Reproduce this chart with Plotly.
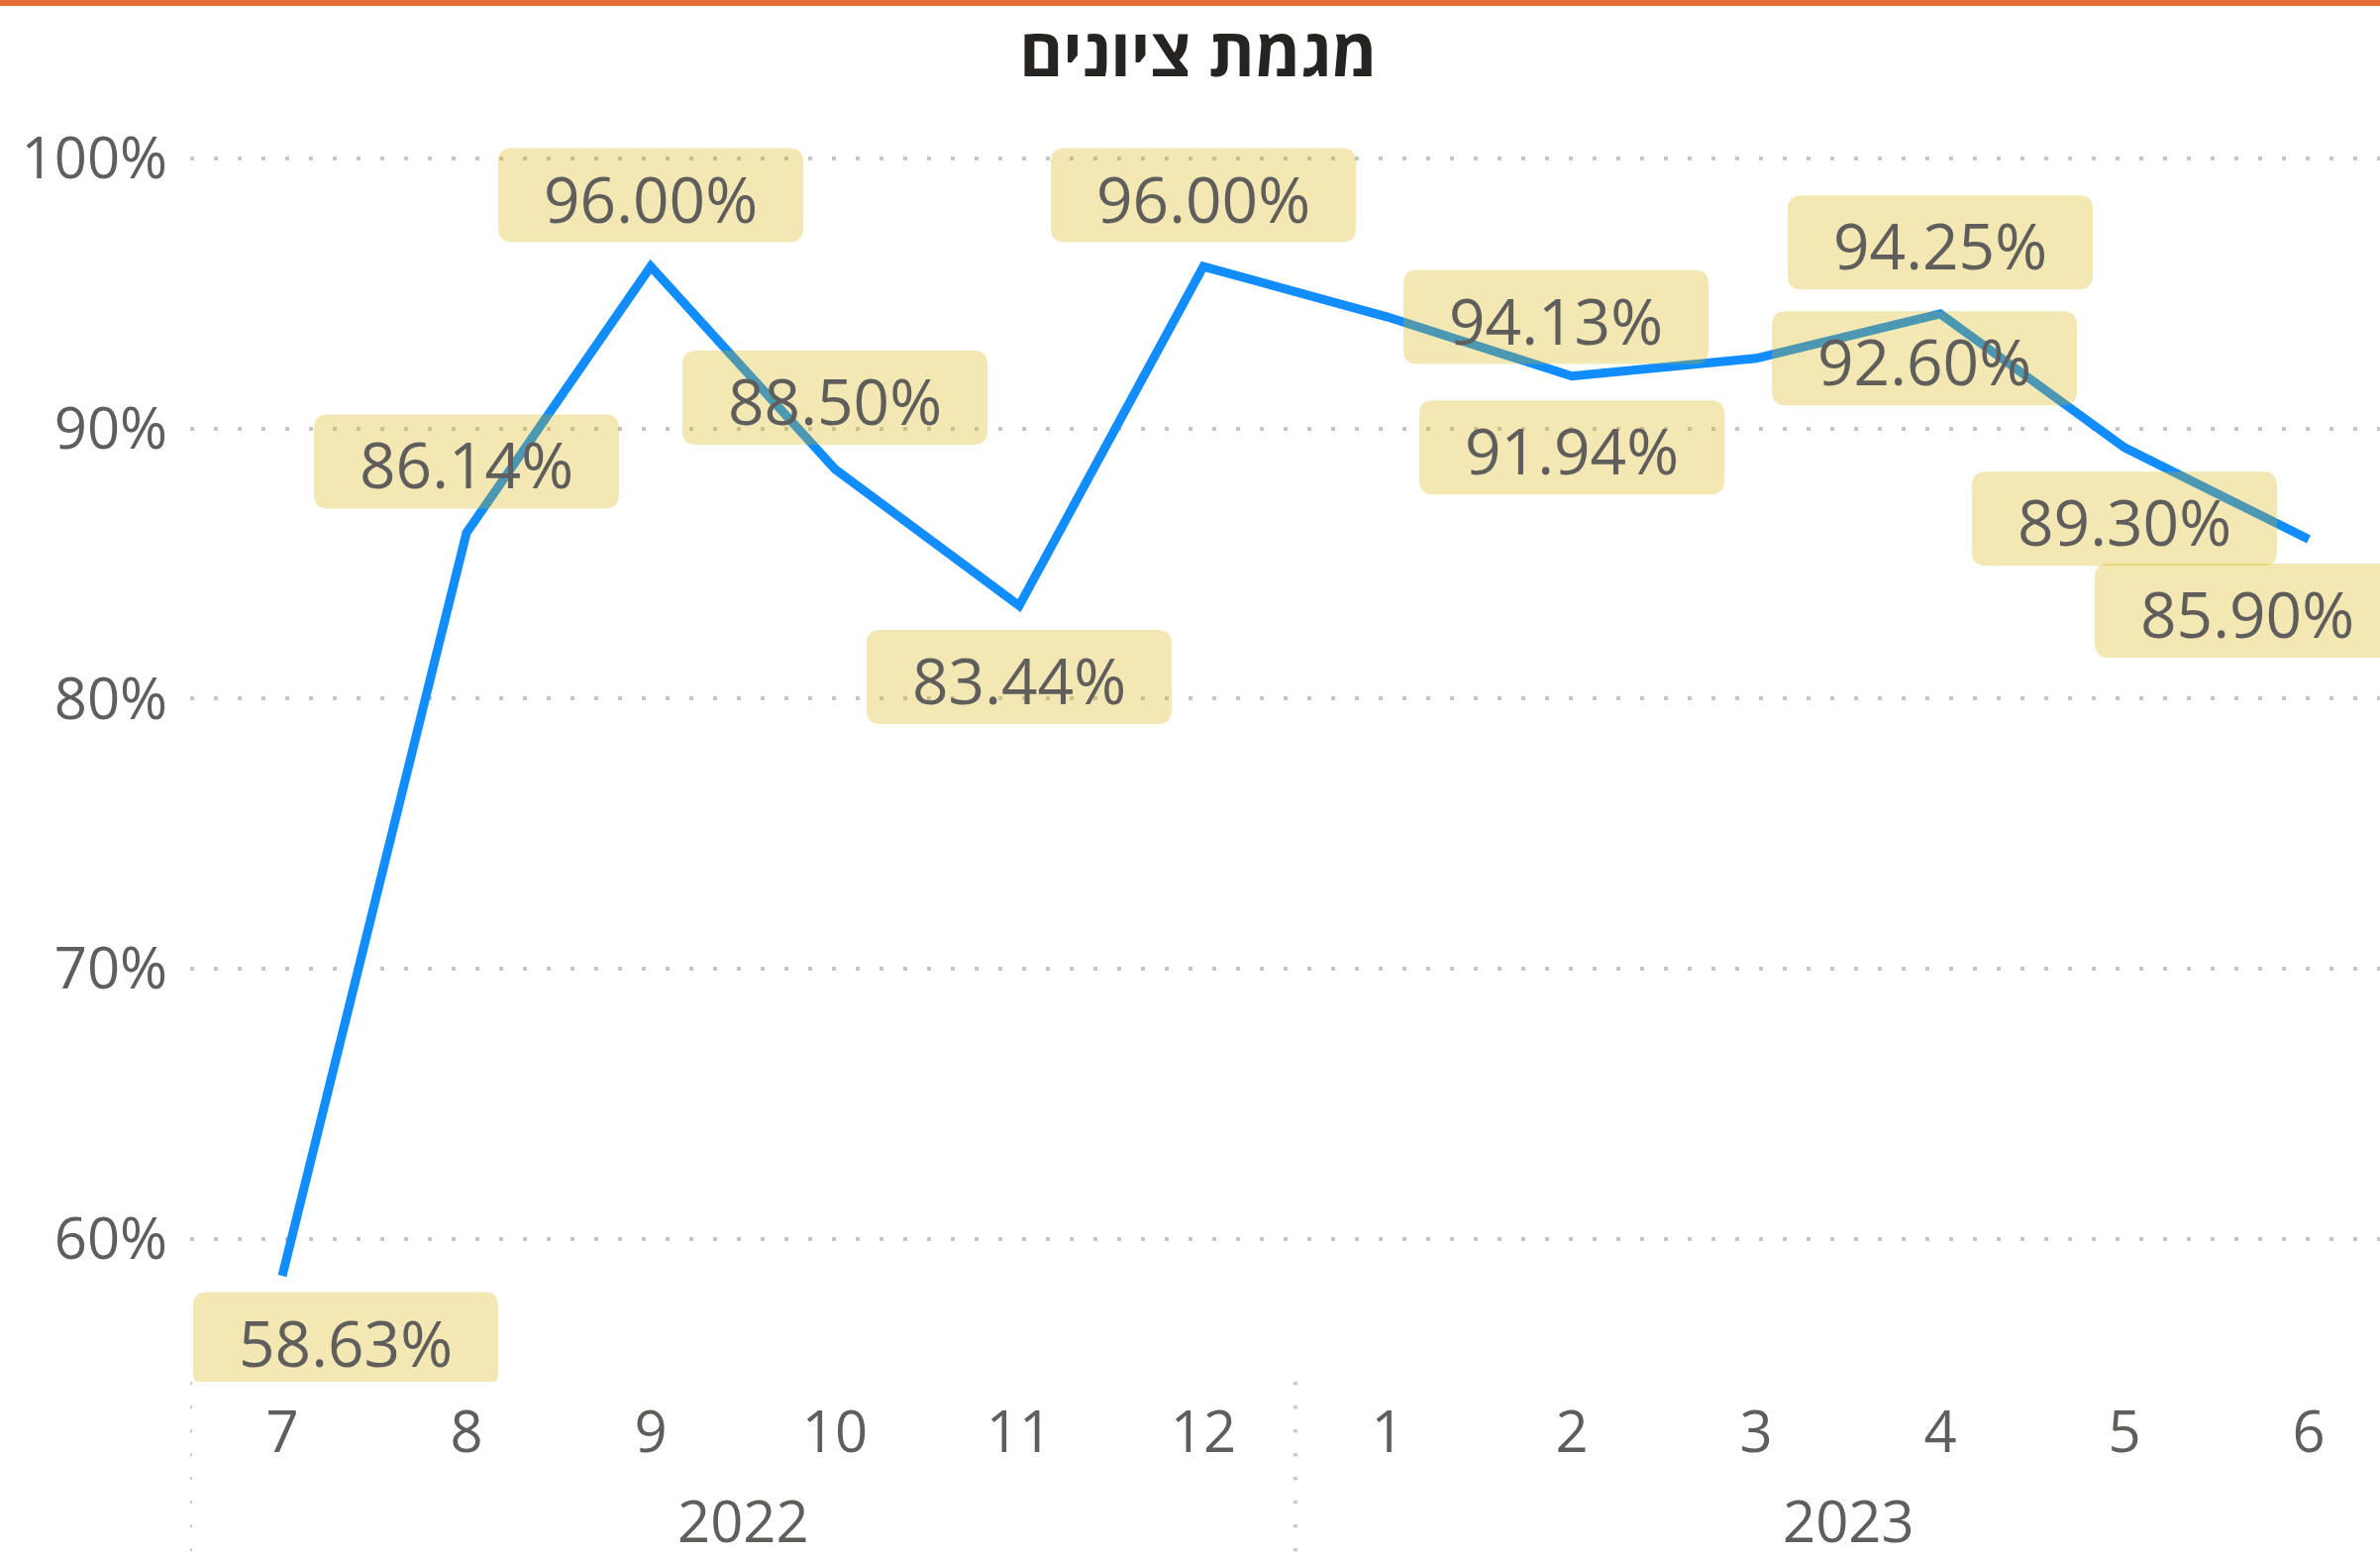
import plotly.graph_objects as go

# ---------------- data ----------------
title_text = "מגמת ציונים"
years = ["2022", "2022", "2022", "2022", "2022", "2022",
         "2023", "2023", "2023", "2023", "2023", "2023"]
months = ["7", "8", "9", "10", "11", "12", "1", "2", "3", "4", "5", "6"]
values = [58.63, 86.14, 96.00, 88.50, 83.44, 96.00,
          94.13, 91.94, 92.60, 94.25, 89.30, 85.90]
y_ticks = [60, 70, 80, 90, 100]
y_tick_labels = ["60%", "70%", "80%", "90%", "100%"]

# ---------------- style ----------------
label_place = ["below", "above", "above", "above", "below", "above",
               "right", "below", "right", "above", "below", "below"]
place_offset = {"above": (0, 72), "below": (0, -72), "right": (170, 0)}
edge_nudge = {0: (64, 8), 11: (-62, 0)}   # pixel nudges for clamped labels

LINE_COLOR = "#118DFF"
TEXT_COLOR = "#605E5C"
BOX_COLOR = "rgba(215,178,2,0.30)"
GRID_COLOR = "#C8C6C4"
FONT = "Open Sans, Noto Sans, DejaVu Sans, sans-serif"

W, H = 2403, 1572
ML, MR, MT, MB = 192, 0, 130, 177
plot_h = H - MT - MB
plot_w = W - ML - MR

x_idx = list(range(len(values)))

fig = go.Figure()
fig.add_trace(go.Scatter(
    x=x_idx, y=values, mode="lines",
    line=dict(color=LINE_COLOR, width=9),
    hoverinfo="skip", showlegend=False,
))

shapes = []
annotations = []

# data labels with rounded boxes
bw, bh, r = 308, 95, 14
for i, v in enumerate(values):
    dx, dy = place_offset[label_place[i]]
    if i in edge_nudge:
        ndx, ndy = edge_nudge[i]
        dx += ndx
        dy += ndy
    x0, x1 = dx - bw / 2, dx + bw / 2
    y0, y1 = dy - bh / 2, dy + bh / 2
    path = (f"M{x0 + r},{y0} L{x1 - r},{y0} Q{x1},{y0} {x1},{y0 + r} "
            f"L{x1},{y1 - r} Q{x1},{y1} {x1 - r},{y1} "
            f"L{x0 + r},{y1} Q{x0},{y1} {x0},{y1 - r} "
            f"L{x0},{y0 + r} Q{x0},{y0} {x0 + r},{y0} Z")
    shapes.append(dict(
        type="path", xref="x", yref="y",
        xsizemode="pixel", ysizemode="pixel",
        xanchor=i, yanchor=v, path=path,
        fillcolor=BOX_COLOR, line=dict(width=0), layer="above",
    ))
    annotations.append(dict(
        x=i, y=v, xref="x", yref="y", text=f"{v:.2f}%",
        showarrow=False, xshift=dx, yshift=dy - 3,
        font=dict(family=FONT, size=64, color=TEXT_COLOR),
        xanchor="center", yanchor="middle",
    ))

# year group labels and dividers
bottom_paper = -MB / plot_h
unique_years = []
for y in years:
    if y not in unique_years:
        unique_years.append(y)
for yr in unique_years:
    idxs = [i for i, y in enumerate(years) if y == yr]
    center = sum(idxs) / len(idxs)
    annotations.append(dict(
        x=center, y=-(1534 - (H - MB)) / plot_h, xref="x", yref="paper",
        text=yr, showarrow=False, yanchor="middle",
        font=dict(family=FONT, size=58, color=TEXT_COLOR),
    ))
    boundary = idxs[0] - 0.5
    shapes.append(dict(
        type="line", xref="x", yref="paper",
        x0=boundary, x1=boundary, y0=0, y1=bottom_paper,
        line=dict(color=GRID_COLOR, width=3.5, dash="3.5px,20.5px"),
    ))

# top orange bar
shapes.append(dict(
    type="rect", xref="paper", yref="paper",
    x0=-ML / plot_w, x1=1, y0=1 + (MT - 6) / plot_h, y1=1 + MT / plot_h,
    fillcolor="#E66C37", line=dict(width=0), layer="above",
))

fig.update_layout(
    width=W, height=H,
    margin=dict(l=ML, r=MR, t=MT, b=MB, autoexpand=False),
    paper_bgcolor="white", plot_bgcolor="white",
    title=dict(
        text=f"<b>{title_text}</b>", x=1210 / W, xanchor="center",
        y=1 - 54 / H, yanchor="middle",
        font=dict(family="Open Sans, DejaVu Sans, sans-serif", size=67, color="#252423"),
    ),
    shapes=shapes, annotations=annotations,
    xaxis=dict(
        range=[-0.5, -0.5 + plot_w / 186.0],
        tickvals=x_idx, ticktext=months, automargin=False,
        showgrid=False, zeroline=False, showline=False, ticks="",
        tickfont=dict(family=FONT, size=58, color=TEXT_COLOR),
        ticklabelstandoff=12,
    ),
    yaxis=dict(
        range=[54.71, 101.1], automargin=False,
        tickvals=y_ticks, ticktext=y_tick_labels,
        showgrid=True, gridcolor=GRID_COLOR, gridwidth=3.5,
        griddash="3.5px,20.5px",
        zeroline=False, showline=False, ticks="",
        tickfont=dict(family=FONT, size=58, color=TEXT_COLOR),
        ticklabelstandoff=22,
    ),
)

fig.write_html(
    "out.html",
    config={"displayModeBar": False},
    post_script="document.body.style.margin='0';document.body.style.overflow='hidden';",
)
